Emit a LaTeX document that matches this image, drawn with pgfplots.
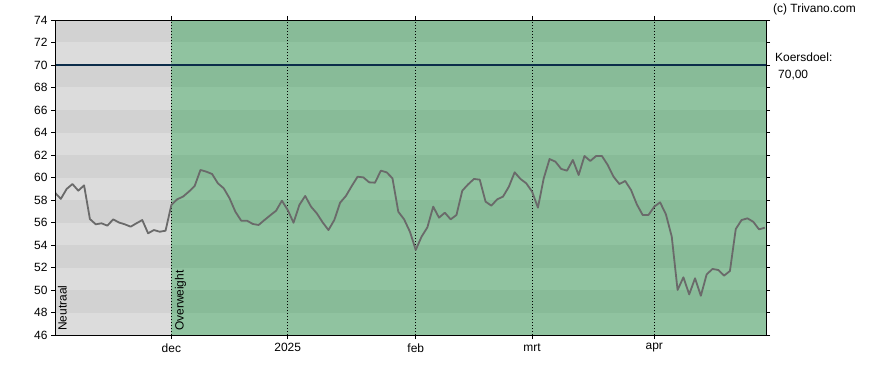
\documentclass[border=0pt]{standalone}
\usepackage{pgfplots}
\pgfplotsset{compat=1.18}
\usepackage{pgfplotstable}
\usepackage{fontspec}
\setmainfont{Liberation Sans}
\definecolor{graylt}{HTML}{DCDCDC}
\definecolor{graydk}{HTML}{D2D2D2}
\definecolor{greenlt}{HTML}{90C3A0}
\definecolor{greendk}{HTML}{88BB98}
\definecolor{navy}{HTML}{0B2D4A}
\definecolor{pricegray}{HTML}{6A6A6A}

\pgfplotstableread{
i v
0 58.65
1 58.10
2 58.98
3 59.42
4 58.83
5 59.30
6 56.31
7 55.84
8 55.93
9 55.72
10 56.28
11 56.00
12 55.84
13 55.63
14 55.93
15 56.22
16 55.04
17 55.33
18 55.18
19 55.27
20 57.56
21 58.06
22 58.30
23 58.74
24 59.24
25 60.67
26 60.52
27 60.31
28 59.48
29 59.04
30 58.15
31 56.96
32 56.16
33 56.16
34 55.87
35 55.78
36 56.22
37 56.64
38 57.05
39 57.94
40 57.11
41 55.98
42 57.56
43 58.36
44 57.41
45 56.81
46 56.01
47 55.33
48 56.22
49 57.76
50 58.36
51 59.24
52 60.07
53 60.01
54 59.57
55 59.54
56 60.61
57 60.46
58 59.93
59 56.96
60 56.28
61 55.18
62 53.56
63 54.74
64 55.57
65 57.41
66 56.43
67 56.87
68 56.28
69 56.67
70 58.83
71 59.39
72 59.87
73 59.81
74 57.85
75 57.50
76 58.06
77 58.30
78 59.18
79 60.46
80 59.87
81 59.48
82 58.74
83 57.32
84 59.93
85 61.64
86 61.41
87 60.76
88 60.61
89 61.56
90 60.22
91 61.91
92 61.47
93 61.91
94 61.91
95 61.11
96 60.07
97 59.42
98 59.69
99 58.89
100 57.61
101 56.67
102 56.67
103 57.41
104 57.79
105 56.72
106 54.74
107 50.00
108 51.13
109 49.61
110 51.04
111 49.49
112 51.39
113 51.87
114 51.78
115 51.28
116 51.69
117 55.42
118 56.22
119 56.37
120 56.07
121 55.39
122 55.54
}\pricedata

\begin{document}
\begin{tikzpicture}[x=1bp,y=1bp]
\path[use as bounding box] (0,0) rectangle (888,370);
\begin{axis}[
  at={(55bp,35bp)}, anchor=south west,
  scale only axis, width=711bp, height=315bp,
  xmin=0, xmax=122.2, ymin=46, ymax=74,
  ytick={46,48,...,74},
  xtick={20,40,62,82,103},
  xticklabels={dec,2025,feb,mrt,apr},
  tick align=outside, major tick length=4bp,
  tick style={black, line width=0.6pt},
  axis line style={black, line width=0.8pt},
  tick label style={font=\fontsize{12}{14}\selectfont, text=black},
  /pgf/number format/assume math mode=true,
  xticklabel style={yshift=-1bp},
  axis on top,
]
% background regions
\fill[graylt] (axis cs:0,46) rectangle (axis cs:20,74);
\fill[greenlt] (axis cs:20,46) rectangle (axis cs:122.2,74);
\fill[graydk] (axis cs:0,48) rectangle (axis cs:20,50);
\fill[graydk] (axis cs:0,52) rectangle (axis cs:20,54);
\fill[graydk] (axis cs:0,56) rectangle (axis cs:20,58);
\fill[graydk] (axis cs:0,60) rectangle (axis cs:20,62);
\fill[graydk] (axis cs:0,64) rectangle (axis cs:20,66);
\fill[graydk] (axis cs:0,68) rectangle (axis cs:20,70);
\fill[graydk] (axis cs:0,72) rectangle (axis cs:20,74);
\fill[greendk] (axis cs:20,48) rectangle (axis cs:122.2,50);
\fill[greendk] (axis cs:20,52) rectangle (axis cs:122.2,54);
\fill[greendk] (axis cs:20,56) rectangle (axis cs:122.2,58);
\fill[greendk] (axis cs:20,60) rectangle (axis cs:122.2,62);
\fill[greendk] (axis cs:20,64) rectangle (axis cs:122.2,66);
\fill[greendk] (axis cs:20,68) rectangle (axis cs:122.2,70);
\fill[greendk] (axis cs:20,72) rectangle (axis cs:122.2,74);
% dotted month lines
\foreach \xx in {20,40,62,82,103} {
  \edef\tmp{\noexpand\draw[black, line width=0.8pt, dash pattern=on 1bp off 2bp] (axis cs:\xx,46) -- (axis cs:\xx,74);}
  \tmp
}
% target line
\addplot[navy, line width=1.6bp, forget plot] coordinates {(0,70) (122.2,70)};
% price
\addplot[pricegray, line width=1.8bp, line join=round] table[x=i,y=v] {\pricedata};
% rating labels
\node[rotate=90, anchor=base west, inner sep=0, font=\fontsize{12}{14}\selectfont] at (axis cs:2.0,46.35) {Neutraal};
\node[rotate=90, anchor=base west, inner sep=0, font=\fontsize{12}{14}\selectfont] at (axis cs:22.1,46.35) {Overweight};
\end{axis}
\node[anchor=base west, inner sep=0, font=\fontsize{12}{14}\selectfont] at (773,357.3) {(c) Trivano.com};
\node[anchor=base west, inner sep=0, font=\fontsize{12}{14}\selectfont] at (775,309) {Koersdoel:};
\node[anchor=base west, inner sep=0, font=\fontsize{12}{14}\selectfont] at (778,291.7) {70,00};
\end{tikzpicture}
\end{document}
